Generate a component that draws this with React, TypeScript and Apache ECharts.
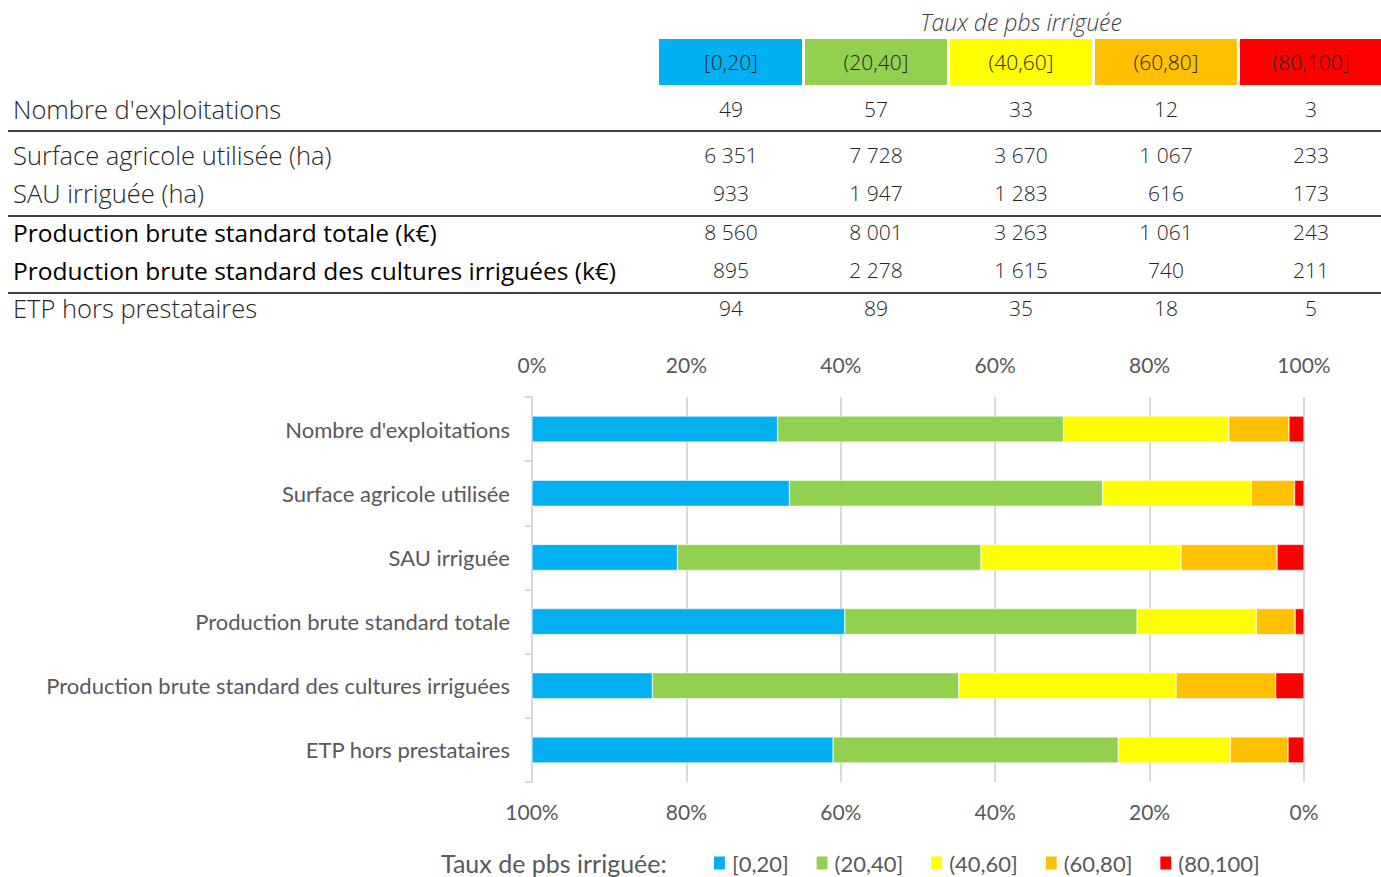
import React, { useEffect, useRef } from "react";
import * as echarts from "echarts";

const tableTitle = "Taux de pbs irriguée";
const classes = ["[0,20]", "(20,40]", "(40,60]", "(60,80]", "(80,100]"];
const classColors = ["#00B0F0", "#92D050", "#FFFF00", "#FFC000", "#FF0000"];

const rowLabels = [
  "Nombre d'exploitations",
  "Surface agricole utilisée (ha)",
  "SAU irriguée (ha)",
  "Production brute standard totale (k€)",
  "Production brute standard des cultures irriguées (k€)",
  "ETP hors prestataires",
];
const rowBold = [false, false, false, true, true, false];

const barCategories = [
  "Nombre d'exploitations",
  "Surface agricole utilisée",
  "SAU irriguée",
  "Production brute standard totale",
  "Production brute standard des cultures irriguées",
  "ETP hors prestataires",
];

// values per class, one entry per row
const values_0_20 = [49, 6351, 933, 8560, 895, 94];
const values_20_40 = [57, 7728, 1947, 8001, 2278, 89];
const values_40_60 = [33, 3670, 1283, 3263, 1615, 35];
const values_60_80 = [12, 1067, 616, 1061, 740, 18];
const values_80_100 = [3, 233, 173, 243, 211, 5];

const legendTitle = "Taux de pbs irriguée:";

const allValues = [values_0_20, values_20_40, values_40_60, values_60_80, values_80_100];

function fmt(v: number): string {
  return String(v).replace(/\B(?=(\d{3})+(?!\d))/g, " ");
}

const TABLE_FONT = "'Open Sans', sans-serif";
const CHART_FONT = "Lato, 'Open Sans', sans-serif";

export default function App() {
  const ref = useRef<HTMLDivElement>(null);
  useEffect(() => {
    if (!ref.current) return;
    const chart = echarts.init(ref.current, undefined, { renderer: "svg" });

    const totals = barCategories.map((_, i) => allValues.reduce((s, arr) => s + arr[i], 0));

    const colCenters = [731, 876, 1021, 1166, 1311];
    const cellLeft = [659, 805, 950, 1095, 1240];
    const cellW = [143, 142, 142, 142, 141];
    const rowY = [109, 155, 193, 232, 270, 308];
    const lineY = [131, 216, 293];

    const graphics: any[] = [];
    graphics.push({
      type: "text",
      x: 1021,
      y: 22,
      style: {
        text: tableTitle,
        fontFamily: TABLE_FONT,
        fontWeight: 300,
        fontStyle: "italic",
        fontSize: 23,
        fill: "#404040",
        textAlign: "center",
        textVerticalAlign: "middle",
      },
    });
    classes.forEach((c, k) => {
      graphics.push({
        type: "rect",
        shape: { x: cellLeft[k], y: 39, width: cellW[k], height: 46 },
        style: { fill: classColors[k] },
      });
      graphics.push({
        type: "text",
        x: colCenters[k],
        y: 62,
        style: {
          text: c,
          fontFamily: TABLE_FONT,
          fontWeight: 300,
          fontSize: 21,
          fill: "#262626",
          textAlign: "center",
          textVerticalAlign: "middle",
        },
      });
    });
    rowLabels.forEach((lab, i) => {
      graphics.push({
        type: "text",
        x: 13,
        y: rowY[i],
        style: {
          text: lab,
          fontFamily: TABLE_FONT,
          fontWeight: rowBold[i] ? 400 : 300,
          fontSize: rowBold[i] ? 24.5 : 25.5,
          fill: rowBold[i] ? "#000000" : "#262626",
          textAlign: "left",
          textVerticalAlign: "middle",
        },
      });
      allValues.forEach((arr, k) => {
        graphics.push({
          type: "text",
          x: colCenters[k],
          y: rowY[i],
          style: {
            text: fmt(arr[i]),
            fontFamily: TABLE_FONT,
            fontWeight: 300,
            fontSize: 21,
            fill: "#262626",
            textAlign: "center",
            textVerticalAlign: "middle",
          },
        });
      });
    });
    lineY.forEach((y) => {
      graphics.push({
        type: "line",
        shape: { x1: 8, y1: y, x2: 1381, y2: y },
        style: { stroke: "#000000", lineWidth: 1.3 },
      });
    });
    graphics.push({
      type: "text",
      x: 441,
      y: 863,
      style: {
        text: legendTitle,
        fontFamily: CHART_FONT,
        fontSize: 25,
        fill: "#595959",
        textAlign: "left",
        textVerticalAlign: "middle",
      },
    });

    const axisLabelStyle = {
      fontFamily: CHART_FONT,
      fontSize: 21,
      color: "#595959",
    };

    chart.setOption({
      animation: false,
      graphic: graphics,
      grid: { left: 532, right: 77, top: 397, bottom: 95, containLabel: false },
      legend: {
        left: 712,
        top: 850,
        padding: 0,
        icon: "path://M0,0H12V14H0Z",
        itemWidth: 13,
        itemHeight: 15,
        itemGap: 26,
        textStyle: { fontFamily: CHART_FONT, fontSize: 22, color: "#595959", lineHeight: 26, padding: [0, 0, 0, 1] },
        data: classes,
      },
      xAxis: [
        {
          type: "value",
          position: "top",
          min: 0,
          max: 100,
          interval: 20,
          axisLine: { show: false },
          axisTick: { show: false },
          axisLabel: { ...axisLabelStyle, margin: 22, formatter: "{value}%" },
          splitLine: { show: true, lineStyle: { color: "#D9D9D9", width: 2 } },
        },
        {
          type: "value",
          position: "bottom",
          inverse: true,
          min: 0,
          max: 100,
          interval: 20,
          axisLine: { show: false },
          axisTick: { show: false },
          axisLabel: { ...axisLabelStyle, margin: 19, formatter: "{value}%" },
          splitLine: { show: false },
        },
      ],
      yAxis: {
        type: "category",
        inverse: true,
        data: barCategories,
        axisLine: { show: true, lineStyle: { color: "#D9D9D9", width: 2 } },
        axisTick: { show: true, length: 7, lineStyle: { color: "#D9D9D9", width: 2 } },
        axisLabel: { ...axisLabelStyle, fontSize: 22, margin: 22, padding: [0, 0, 2, 0] },
      },
      series: classes.map((c, k) => ({
        name: c,
        type: "bar",
        stack: "total",
        xAxisIndex: 0,
        barWidth: 26,
        itemStyle: { color: classColors[k], borderColor: "#ffffff", borderWidth: 0.5 },
        data: allValues[k].map((v, i) => (v / totals[i]) * 100),
      })),
    });
    return () => chart.dispose();
  }, []);
  return (
    <div
      ref={ref}
      style={{ position: "fixed", left: 0, top: 0, width: 1381, height: 877, background: "#ffffff" }}
    />
  );
}
